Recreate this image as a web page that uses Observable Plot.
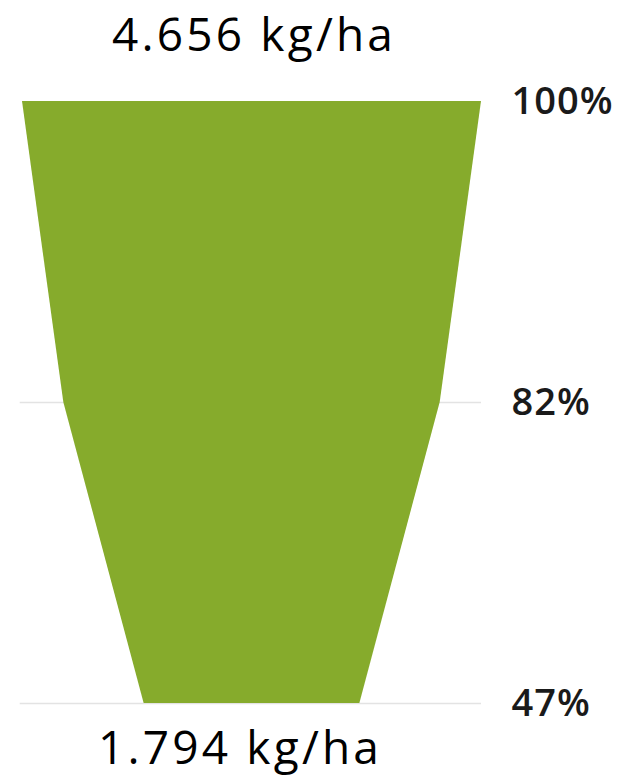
<!DOCTYPE html>
<html>
<head>
<meta charset="utf-8">
<script src="https://cdn.jsdelivr.net/npm/d3@7"></script>
<script src="https://cdn.jsdelivr.net/npm/@observablehq/plot@0.6"></script>
<style>
  html, body { margin: 0; padding: 0; background: #fff; }
  #chart svg { display: block; }
  .kg-label text { letter-spacing: 3.2px; }
  .pct-label text { letter-spacing: 1px; }
</style>
</head>
<body>
<div id="chart"></div>
<script>
const stages = [0, 1, 2];
const shares = [100, 82, 47];
const shareLabels = ["100%", "82%", "47%"];
const topLabel = "4.656 kg/ha";
const bottomLabel = "1.794 kg/ha";

const rows = stages.map((s, i) => ({stage: s, share: shares[i], label: shareLabels[i]}));

const chart = Plot.plot({
  width: 624,
  height: 777,
  marginTop: 101,
  marginBottom: 74,
  marginLeft: 22,
  marginRight: 143,
  x: {domain: [-50, 50], axis: null},
  y: {domain: [0, 2], reverse: true, axis: null},
  style: {fontFamily: "'Open Sans', sans-serif", background: "#fff"},
  marks: [
    Plot.ruleY(rows.filter(d => d.stage > 0), {y: "stage", x1: -50.5, x2: 50, stroke: "#e3e3e3", strokeWidth: 1.5}),
    Plot.areaX(rows, {y: "stage", x1: d => -d.share / 2, x2: d => d.share / 2, fill: "#86ab2c", curve: "linear"}),
    Plot.text(rows, {y: "stage", x: 50, dx: 30, text: "label", textAnchor: "start", fontSize: 38, fontWeight: 600, fill: "#1a1a1a", className: "pct-label"}),
    Plot.text([topLabel], {frameAnchor: "top", text: d => d, dy: -51, dx: 2, fontSize: 46, fill: "#000", lineAnchor: "bottom", className: "kg-label"}),
    Plot.text([bottomLabel], {frameAnchor: "bottom", text: d => d, dy: 60, dx: -12, fontSize: 46, fill: "#000", lineAnchor: "bottom", className: "kg-label"})
  ]
});
document.getElementById("chart").appendChild(chart);
</script>
</body>
</html>
